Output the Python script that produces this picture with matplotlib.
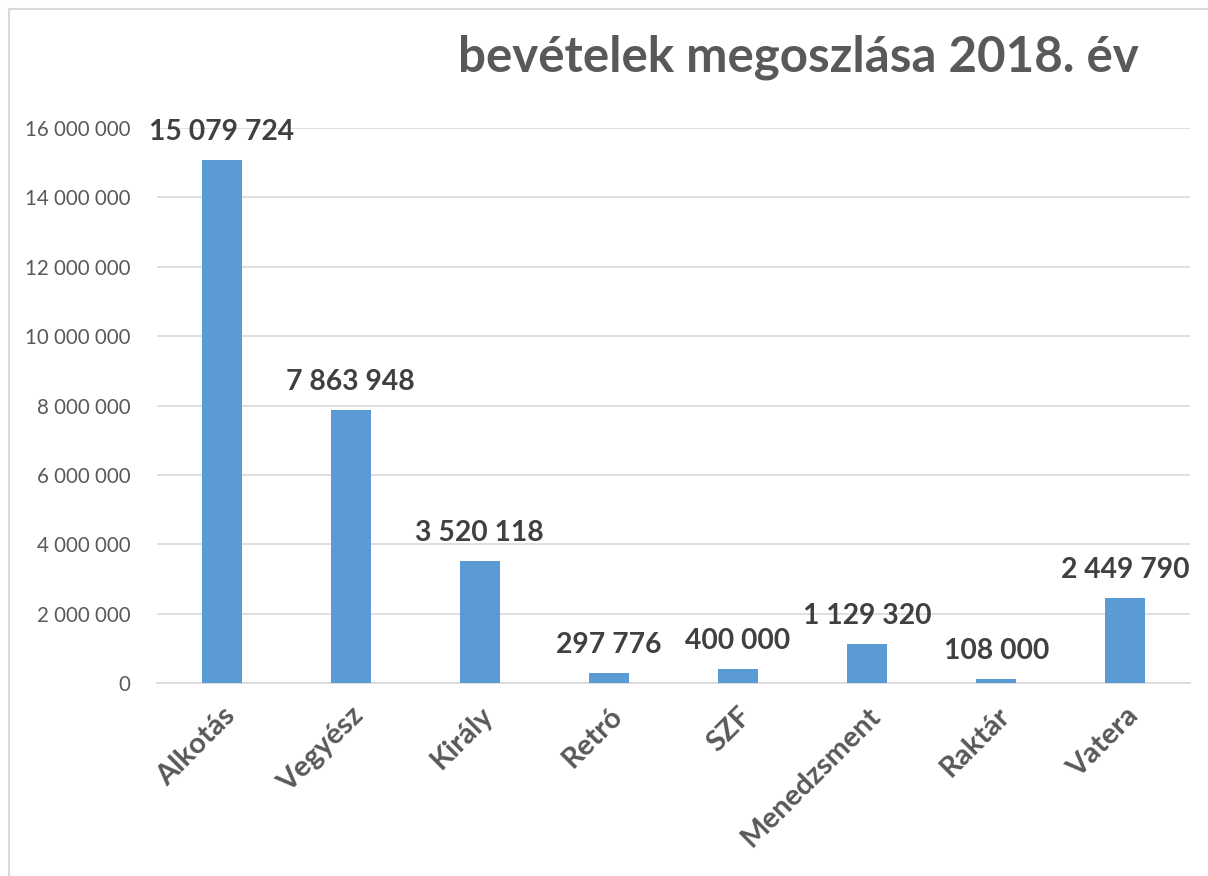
import matplotlib.pyplot as plt
from matplotlib.patches import Rectangle

kategoriak = ['Alkotás', 'Vegyész', 'Király', 'Retró', 'SZF', 'Menedzsment', 'Raktár', 'Vatera']
bevetelek = [15079724, 7863948, 3520118, 297776, 400000, 1129320, 108000, 2449790]
y_ticks = [0, 2000000, 4000000, 6000000, 8000000, 10000000, 12000000, 14000000, 16000000]


def ezres(v):
    # magyar ezres tagolás szóközzel
    return f'{v:,}'.replace(',', ' ')


plt.rcParams['font.family'] = ['Lato', 'DejaVu Sans']

fig = plt.figure(figsize=(12.08, 8.76), dpi=100)
ax = fig.add_axes([0.130, 0.2203, 0.855, 0.6336])

# keret a kép bal és felső szélén
fig.patches.append(Rectangle((9 / 1208, -0.1), 1.2, 1.1 - 9 / 876,
                             transform=fig.transFigure, fill=False,
                             edgecolor='#D9D9D9', linewidth=1.5))

x = range(len(kategoriak))
barras = ax.bar(x, bevetelek, width=0.31, color='#5B9BD5', zorder=3)

for barra, v in zip(barras, bevetelek):
    ax.text(barra.get_x() + barra.get_width() / 2, v + 430000, ezres(v),
            ha='center', va='bottom', fontsize=20.3, fontweight='bold',
            color='#404040', zorder=4)

ax.set_xlim(-0.5, len(kategoriak) - 0.5)
ax.set_ylim(0, 16000000)
ax.set_yticks(y_ticks)
ax.set_yticklabels([ezres(t) for t in y_ticks], fontsize=14.8, color='#595959')
ax.set_xticks(list(x))
ax.set_xticklabels(kategoriak, rotation=45, ha='right', rotation_mode='anchor',
                   fontsize=21, fontweight='bold', color='#595959')
ax.tick_params(axis='y', length=0, pad=19)
ax.tick_params(axis='x', length=0, pad=14)

ax.grid(axis='y', color='#D9D9D9', linewidth=1.2, zorder=0)
for s in ['top', 'right', 'left']:
    ax.spines[s].set_visible(False)
ax.spines['bottom'].set_color('#D9D9D9')
ax.spines['bottom'].set_linewidth(1.2)

fig.text(0.661, 0.935, 'bevételek megoszlása 2018. év', ha='center', va='center',
         fontsize=35.5, fontweight='bold', color='#595959')

plt.savefig('out.png', dpi=100)
